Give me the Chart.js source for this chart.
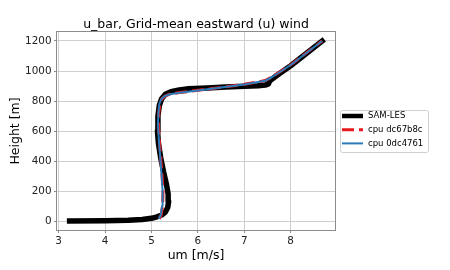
<!DOCTYPE html>
<html>
<head>
<meta charset="utf-8">
<script src="https://cdn.jsdelivr.net/npm/chart.js@4/dist/chart.umd.min.js"></script>
<style>
  html, body { margin: 0; padding: 0; background: #fff; }
</style>
</head>
<body>
<canvas id="uBar" width="450" height="270"></canvas>
<script>
// u_bar profiles (um in m/s, height in m)
const samU = [3.237, 4.0, 4.5, 4.8, 5.0, 5.12, 5.22, 5.30, 5.35, 5.37, 5.36, 5.32, 5.26, 5.20, 5.15, 5.13, 5.14, 5.17, 5.22, 5.30, 5.42, 5.60, 5.80, 6.20, 6.60, 7.00, 7.30, 7.45, 7.52, 7.55, 7.70, 8.00, 8.677]
const samZ = [0, 2, 5, 10, 18, 28, 40, 60, 90, 130, 180, 250, 330, 420, 520, 600, 700, 770, 815, 845, 862, 874, 881, 887, 893, 898, 902, 906, 914, 935, 970, 1035, 1200]

const cpuAU = [5.17, 5.21, 5.24, 5.25, 5.23, 5.20, 5.17, 5.15, 5.16, 5.18, 5.22, 5.29, 5.40, 5.60, 6.00, 6.50, 7.00, 7.45, 7.60, 8.00, 8.677]
const cpuAZ = [15, 40, 100, 200, 300, 420, 540, 640, 720, 780, 813, 833, 846, 856, 871, 891, 911, 936, 961, 1041, 1200]

const cpuBU = [5.16, 5.20, 5.23, 5.24, 5.22, 5.19, 5.16, 5.14, 5.15, 5.17, 5.21, 5.28, 5.40, 5.60, 6.00, 6.50, 7.00, 7.45, 7.60, 8.00, 8.677]
const cpuBZ = [15, 40, 100, 200, 300, 420, 540, 640, 720, 780, 812, 832, 845, 855, 870, 890, 910, 935, 960, 1040, 1200]

const xTicks = [3, 4, 5, 6, 7, 8]
const yTicks = [0, 200, 400, 600, 800, 1000, 1200]

const seriesNames = ['SAM-LES', 'cpu dc67b8c', 'cpu 0dc4761']

function toPoints(us, zs) {
    return us.map((u, i) => ({ x: u, y: zs[i] }))
}

const fam = 'DejaVu Sans'

// frame, title and legend like matplotlib
const mplExtras = {
    id: 'mplExtras',
    afterDatasetsDraw(chart) {
        const ctx = chart.ctx
        const a = chart.chartArea
        ctx.save()
        ctx.strokeStyle = '#8c8c8c'
        ctx.lineWidth = 1
        ctx.strokeRect(Math.round(a.left) - 0.5, Math.round(a.top) - 0.5, Math.round(a.right - a.left) + 1, Math.round(a.bottom - a.top) + 1)

        ctx.fillStyle = '#000'
        ctx.font = '12.5px ' + fam
        ctx.textAlign = 'center'
        ctx.textBaseline = 'middle'
        ctx.fillText('u_bar, Grid-mean eastward (u) wind', (a.left + a.right) / 2, 25)

        // legend
        ctx.fillStyle = '#fff'
        ctx.strokeStyle = '#d0d0d0'
        ctx.beginPath()
        ctx.roundRect(340.5, 110.5, 88, 42, 2)
        ctx.fill()
        ctx.stroke()
        chart.data.datasets.forEach((ds, i) => {
            const y = 116 + i * 13.7
            ctx.strokeStyle = ds.borderColor
            ctx.lineWidth = Math.min(ds.borderWidth, 4.5)
            ctx.setLineDash(ds.borderDash || [])
            ctx.lineCap = 'butt'
            ctx.beginPath()
            ctx.moveTo(342, y)
            ctx.lineTo(363, y)
            ctx.stroke()
            ctx.setLineDash([])
            ctx.fillStyle = '#000'
            ctx.font = '8.5px ' + fam
            ctx.textAlign = 'left'
            ctx.fillText(ds.label, 368, y)
        })
        ctx.restore()
    }
}

let grafico = new Chart(document.getElementById('uBar'), {
    type: 'scatter',
    data: {
        datasets: [
            {
                label: seriesNames[0],
                data: toPoints(samU, samZ),
                showLine: true,
                order: 3,
                borderColor: '#000000',
                borderWidth: 5.5,
                borderCapStyle: 'square',
                borderJoinStyle: 'round',
                pointRadius: 0
            },
            {
                label: seriesNames[1],
                data: toPoints(cpuAU, cpuAZ),
                showLine: true,
                order: 2,
                borderColor: '#e6191e',
                borderWidth: 3,
                borderDash: [12, 5],
                borderJoinStyle: 'round',
                pointRadius: 0
            },
            {
                label: seriesNames[2],
                data: toPoints(cpuBU, cpuBZ),
                showLine: true,
                order: 1,
                borderColor: '#2b7bba',
                borderWidth: 2,
                borderJoinStyle: 'round',
                pointRadius: 0
            }
        ]
    },
    options: {
        responsive: false,
        animation: false,
        events: [],
        layout: { padding: { left: 0, right: 115, top: 32, bottom: 0 } },
        plugins: {
            legend: { display: false },
            tooltip: { enabled: false },
            title: { display: false }
        },
        scales: {
            x: {
                type: 'linear',
                min: 2.965,
                max: 8.955,
                afterBuildTicks: s => { s.ticks = xTicks.map(v => ({ value: v })) },
                afterFit: s => { s.height = 40 },
                grid: { color: '#cfcfcf', lineWidth: 1, tickLength: 3, tickColor: '#8c8c8c', drawTicks: true },
                border: { display: false },
                ticks: { font: { family: fam, size: 10.4 }, color: '#222', padding: 2, maxRotation: 0, callback: v => String(v) },
                title: { display: true, text: 'um [m/s]', font: { family: fam, size: 12.5 }, color: '#000', padding: { top: 0, bottom: 7 } }
            },
            y: {
                type: 'linear',
                min: -60,
                max: 1260,
                afterBuildTicks: s => { s.ticks = yTicks.map(v => ({ value: v })) },
                afterFit: s => { s.width = 57 },
                grid: { color: '#cfcfcf', lineWidth: 1, tickLength: 3, tickColor: '#8c8c8c', drawTicks: true },
                border: { display: false },
                ticks: { font: { family: fam, size: 10.4 }, color: '#222', padding: 2.5, callback: v => String(v) },
                title: { display: true, text: 'Height [m]', font: { family: fam, size: 12.5 }, color: '#000', padding: { top: 8.5, bottom: 0 } }
            }
        }
    },
    plugins: [mplExtras]
})
</script>
</body>
</html>
